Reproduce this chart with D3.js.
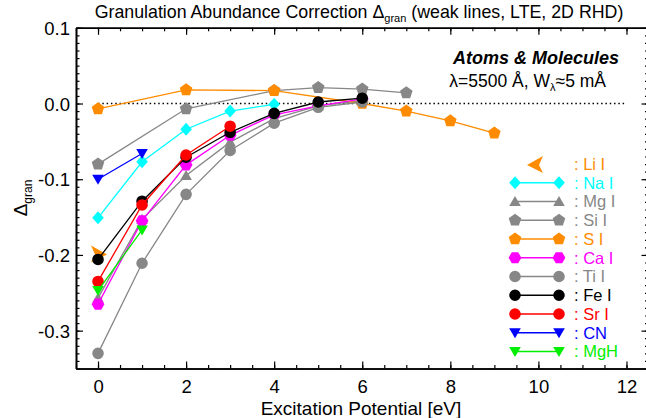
<!DOCTYPE html>
<html><head><meta charset="utf-8">
<script src="https://cdn.jsdelivr.net/npm/d3@7"></script>
<style>
body{margin:0;background:#fff;}
svg{display:block;font-family:"Liberation Sans",Arial,sans-serif;}
</style></head>
<body><svg id="c" width="646" height="418"></svg>
<script>
// ---- data ----
const seriesNames = ["Li I","Na I","Mg I","Si I","S I","Ca I","Ti I","Fe I","Sr I","CN","MgH"];
const liX = [0];            const liY = [-0.198];
const naX = [0,1,2,3,4];    const naY = [-0.151,-0.077,-0.034,-0.010,-0.001];
const mgX = [0,1,2,3,4,5,6]; const mgY = [-0.257,-0.153,-0.095,-0.051,-0.020,-0.003,0.004];
const siX = [0,2,4,5,6,7];  const siY = [-0.080,-0.007,0.017,0.021,0.019,0.014];
const sX  = [0,2,4,6,7,8,9]; const sY = [-0.007,0.018,0.017,0.000,-0.010,-0.023,-0.039];
const caX = [0,1,2,3,4,5,6]; const caY = [-0.265,-0.155,-0.081,-0.042,-0.015,-0.003,0.006];
const tiX = [0,1,2,3,4,5,6]; const tiY = [-0.330,-0.211,-0.120,-0.062,-0.026,-0.005,0.002];
const feX = [0,1,2,3,4,5,6]; const feY = [-0.206,-0.129,-0.071,-0.038,-0.013,0.002,0.007];
const srX = [0,1,2,3];      const srY = [-0.235,-0.134,-0.068,-0.030];
const cnX = [0,1];          const cnY = [-0.100,-0.066];
const mghX = [0,1];         const mghY = [-0.247,-0.167];
const xTickValues = [0,2,4,6,8,10,12];
const xTickLabels = ["0","2","4","6","8","10","12"];
const yTickValues = [-0.3,-0.2,-0.1,0.0,0.1];
const yTickLabels = ["-0.3","-0.2","-0.1","0.0","0.1"];

// ---- styles ----
const colors = {"Li I":"#ff8c00","Na I":"#00ffff","Mg I":"#878787","Si I":"#878787","S I":"#ff8c00",
  "Ca I":"#ff00ff","Ti I":"#878787","Fe I":"#000000","Sr I":"#ff0000","CN":"#0000ff","MgH":"#00ee00"};
const shapes = {"Li I":"arrow","Na I":"diamond","Mg I":"triUp","Si I":"pent","S I":"pent","Ca I":"hex",
  "Ti I":"circle","Fe I":"circle","Sr I":"circle","CN":"triDown","MgH":"triDown"};
const dataMap = {"Li I":[liX,liY],"Na I":[naX,naY],"Mg I":[mgX,mgY],"Si I":[siX,siY],"S I":[sX,sY],
  "Ca I":[caX,caY],"Ti I":[tiX,tiY],"Fe I":[feX,feY],"Sr I":[srX,srY],"CN":[cnX,cnY],"MgH":[mghX,mghY]};

function poly(n, r, rot){const p=[];for(let i=0;i<n;i++){const a=rot+i*2*Math.PI/n;p.push([r*Math.cos(a),r*Math.sin(a)]);}return "M"+p.map(q=>q[0].toFixed(2)+","+q[1].toFixed(2)).join("L")+"Z";}
function shapePath(s){
  switch(s){
    case "diamond": return "M0,-6.5L5.8,0L0,6.5L-5.8,0Z";
    case "triUp": return "M0,-5.5L5.8,4.5L-5.8,4.5Z";
    case "triDown": return "M0,5.5L5.8,-4.5L-5.8,-4.5Z";
    case "pent": return poly(5,6.6,-Math.PI/2);
    case "hex": return poly(6,6.4,0);
    case "circle": return "M5.8,0A5.8,5.8 0 1,1 -5.8,0A5.8,5.8 0 1,1 5.8,0Z";
    case "arrow": return "M9,1L-7,-8L-3,1L-7,9Z";
  }
}

const svg = d3.select("#c");
const x = d3.scaleLinear().domain([-0.5,12.5]).range([76,648.5]);
const y = d3.scaleLinear().domain([-0.35,0.1]).range([368.5,27.8]);

// zero dotted line
svg.append("line").attr("x1",x(0)).attr("x2",x(12)).attr("y1",y(0)).attr("y2",y(0))
  .attr("stroke","#000").attr("stroke-width",1.3).attr("stroke-dasharray","1.5,2.8");

// axes
const fs = "18.5px";
function styleAxis(g){g.select(".domain").attr("stroke","#000").attr("stroke-width",1.6);
  g.selectAll(".tick line").attr("stroke","#000").attr("stroke-width",1.2);}
const xMinor = d3.range(-0.5,12.51,0.5);
const yMinor = d3.range(-35,11,1).map(v=>v/100);

const gB = svg.append("g").attr("transform",`translate(0,${y(-0.35)})`)
  .call(d3.axisBottom(x).tickValues(xTickValues).tickSizeInner(-7).tickSizeOuter(0).tickPadding(11)
    .tickFormat((d,i)=>xTickLabels[i]));
styleAxis(gB);
gB.selectAll("text").attr("font-size",fs).attr("fill","#000").attr("font-family","Liberation Sans, Arial, sans-serif");
const gBm = svg.append("g").attr("transform",`translate(0,${y(-0.35)})`)
  .call(d3.axisBottom(x).tickValues(xMinor).tickSizeInner(-3.5).tickSizeOuter(0).tickFormat(""));
styleAxis(gBm);
const gT = svg.append("g").attr("transform",`translate(0,${y(0.1)})`)
  .call(d3.axisTop(x).tickValues(xTickValues).tickSizeInner(-7).tickSizeOuter(0).tickFormat(""));
styleAxis(gT);
const gTm = svg.append("g").attr("transform",`translate(0,${y(0.1)})`)
  .call(d3.axisTop(x).tickValues(xMinor).tickSizeInner(-3.5).tickSizeOuter(0).tickFormat(""));
styleAxis(gTm);

const gL = svg.append("g").attr("transform",`translate(${x(-0.5)},0)`)
  .call(d3.axisLeft(y).tickValues(yTickValues).tickSizeInner(-7).tickSizeOuter(0).tickPadding(6)
    .tickFormat((d,i)=>yTickLabels[i]));
styleAxis(gL);
gL.selectAll("text").attr("font-size",fs).attr("fill","#000").attr("dy","0.36em");
const gLm = svg.append("g").attr("transform",`translate(${x(-0.5)},0)`)
  .call(d3.axisLeft(y).tickValues(yMinor).tickSizeInner(-3.5).tickSizeOuter(0).tickFormat(""));
styleAxis(gLm);
const gR = svg.append("g").attr("transform",`translate(${x(12.5)},0)`)
  .call(d3.axisRight(y).tickValues(yTickValues).tickSizeInner(-7).tickSizeOuter(0).tickFormat(""));
styleAxis(gR);
const gRm = svg.append("g").attr("transform",`translate(${x(12.5)},0)`)
  .call(d3.axisRight(y).tickValues(yMinor).tickSizeInner(-3.5).tickSizeOuter(0).tickFormat(""));
styleAxis(gRm);

// series
const line = d3.line().x(d=>x(d[0])).y(d=>y(d[1]));
seriesNames.forEach(name=>{
  const [xs,ys] = dataMap[name];
  const pts = xs.map((v,i)=>[v,ys[i]]);
  const g = svg.append("g");
  if(pts.length>1) g.append("path").attr("d",line(pts)).attr("fill","none")
      .attr("stroke",colors[name]).attr("stroke-width",1.3);
  g.selectAll("path.m").data(pts).join("path").attr("class","m")
    .attr("d",shapePath(shapes[name]))
    .attr("transform",d=>`translate(${x(d[0])},${y(d[1])})`)
    .attr("fill",colors[name]);
});

// legend
const legTop = 164, legStep = 18.75, lx1 = 515, lx2 = 559, ltx = 574;
seriesNames.forEach((name,i)=>{
  const yy = legTop + i*legStep;
  const g = svg.append("g");
  if(name==="Li I"){
    g.append("path").attr("d",shapePath("arrow")).attr("transform",`translate(536,${yy}) scale(-1,1)`).attr("fill",colors[name]);
  } else {
    g.append("line").attr("x1",lx1).attr("x2",lx2).attr("y1",yy).attr("y2",yy).attr("stroke",colors[name]).attr("stroke-width",1.3);
    [lx1,lx2].forEach(px=>g.append("path").attr("d",shapePath(shapes[name])).attr("transform",`translate(${px},${yy})`).attr("fill",colors[name]));
  }
  g.append("text").attr("x",ltx).attr("y",yy).attr("dy","0.36em").attr("font-size","16.5px")
    .attr("fill",colors[name]).text(": "+name);
});

// title
const t = svg.append("text").attr("x",359).attr("y",18).attr("text-anchor","middle").attr("font-size","17.8px").attr("fill","#000");
t.append("tspan").text("Granulation Abundance Correction \u0394");
t.append("tspan").attr("font-size","11px").attr("dy",4).text("gran");
t.append("tspan").attr("dy",-4).text(" (weak lines, LTE, 2D RHD)");

// x title
svg.append("text").attr("x",361).attr("y",415).attr("text-anchor","middle").attr("font-size","19px").text("Excitation Potential [eV]");

// y title
const yt = svg.append("text").attr("transform","translate(27,198) rotate(-90)").attr("text-anchor","middle").attr("font-size","19px");
yt.append("tspan").text("\u0394");
yt.append("tspan").attr("font-size","12px").attr("dy",5).text("gran");

// annotations
svg.append("text").attr("x",619).attr("y",64).attr("text-anchor","end").attr("font-size","18px")
  .attr("font-weight","bold").attr("font-style","italic").text("Atoms & Molecules");
const a2 = svg.append("text").attr("x",606).attr("y",87).attr("text-anchor","end").attr("font-size","17.5px");
a2.append("tspan").text("\u03bb=5500 \u00c5, W");
a2.append("tspan").attr("font-size","11px").attr("dy",4).text("\u03bb");
a2.append("tspan").attr("dy",-4).text("\u22485 m\u00c5");
</script></body></html>
